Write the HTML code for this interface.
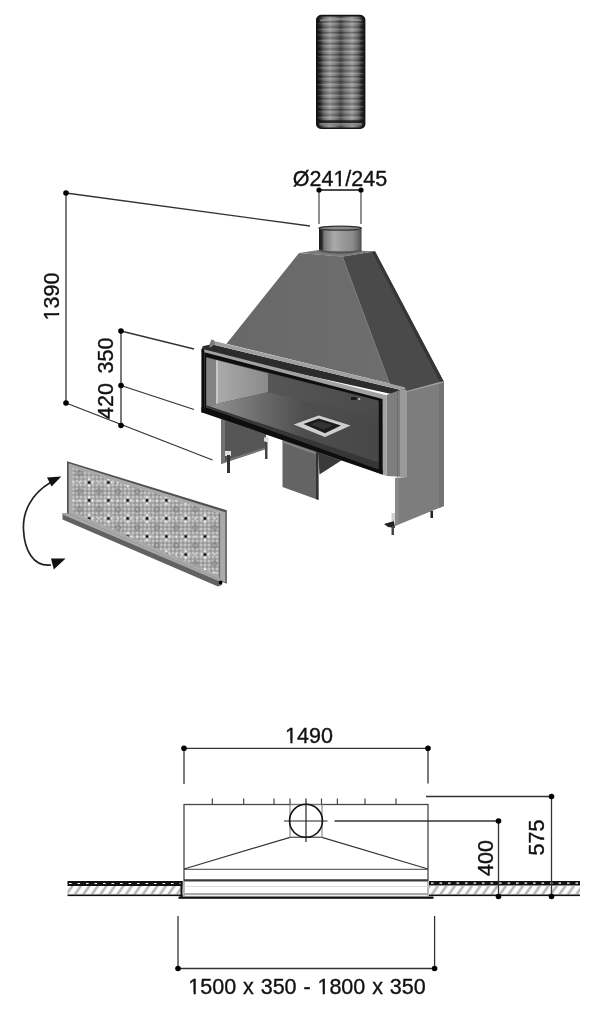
<!DOCTYPE html>
<html><head><meta charset="utf-8">
<style>
html,body{margin:0;padding:0;background:#fff;width:600px;height:1013px;overflow:hidden}
svg{display:block}
text{font-family:"Liberation Sans",sans-serif;fill:#111;stroke:#111;stroke-width:0.35px}
svg{filter:blur(0.3px)}
</style></head><body>
<svg width="600" height="1013" viewBox="0 0 600 1013">
<defs>
  <linearGradient id="pipeH" x1="0" x2="1" y1="0" y2="0">
    <stop offset="0" stop-color="#111"/>
    <stop offset="0.07" stop-color="#2a2a2a"/>
    <stop offset="0.15" stop-color="#6a6a6a"/>
    <stop offset="0.27" stop-color="#9a9a9a"/>
    <stop offset="0.4" stop-color="#767676"/>
    <stop offset="0.5" stop-color="#4c4c4c"/>
    <stop offset="0.6" stop-color="#767676"/>
    <stop offset="0.74" stop-color="#9a9a9a"/>
    <stop offset="0.86" stop-color="#6a6a6a"/>
    <stop offset="0.94" stop-color="#2a2a2a"/>
    <stop offset="1" stop-color="#111"/>
  </linearGradient>
  <pattern id="ridges" x="0" y="21" width="10" height="11" patternUnits="userSpaceOnUse">
    <rect x="0" y="0" width="10" height="1.4" fill="#000" opacity="0.26"/>
    <rect x="0" y="2.2" width="10" height="1.2" fill="#fff" opacity="0.15"/>
    <rect x="0" y="5.2" width="10" height="1.6" fill="#000" opacity="0.2"/>
    <rect x="0" y="8" width="10" height="1.3" fill="#fff" opacity="0.18"/>
  </pattern>
  <linearGradient id="collar" x1="0" x2="1" y1="0" y2="0">
    <stop offset="0" stop-color="#1a1a1a"/>
    <stop offset="0.07" stop-color="#2a2a2a"/>
    <stop offset="0.12" stop-color="#777"/>
    <stop offset="0.35" stop-color="#aaa"/>
    <stop offset="0.55" stop-color="#9a9a9a"/>
    <stop offset="0.8" stop-color="#8a8a8a"/>
    <stop offset="0.94" stop-color="#666"/>
    <stop offset="1" stop-color="#444"/>
  </linearGradient>
  <linearGradient id="hoodfront" x1="0" x2="1" y1="0" y2="0">
    <stop offset="0" stop-color="#686868"/>
    <stop offset="1" stop-color="#6e6e6e"/>
  </linearGradient>
  <linearGradient id="leftwall" x1="0" x2="1" y1="0" y2="0">
    <stop offset="0" stop-color="#aaa"/>
    <stop offset="1" stop-color="#8a8a8a"/>
  </linearGradient>
  <linearGradient id="backwall" x1="0" x2="1" y1="0" y2="0">
    <stop offset="0" stop-color="#565656"/>
    <stop offset="1" stop-color="#4a4a4a"/>
  </linearGradient>
  <linearGradient id="floor" gradientUnits="userSpaceOnUse" x1="216" x2="378" y1="0" y2="0">
    <stop offset="0" stop-color="#8e8e8e"/>
    <stop offset="0.3" stop-color="#686868"/>
    <stop offset="0.55" stop-color="#4e4e4e"/>
    <stop offset="1" stop-color="#474747"/>
  </linearGradient>
  <pattern id="grilleA" x="0" y="0" width="4" height="4" patternUnits="userSpaceOnUse">
    <rect width="4" height="4" fill="#a8a8a8"/>
    <circle cx="1" cy="1" r="1" fill="#cfcfcf"/>
    <circle cx="3" cy="3" r="1" fill="#929292"/>
  </pattern>
  <pattern id="grilleB" x="2.3" y="5.5" width="19.3" height="18" patternUnits="userSpaceOnUse">
    <path d="M0 3 L3 0 M16.3 0 L19.3 3 M0 15 L3 18 M16.3 18 L19.3 15" stroke="#7e7e7e" stroke-width="1.6" opacity="0.8"/>
    <path d="M9.65 3.5 L15.5 9 L9.65 14.5 L3.8 9 Z" fill="none" stroke="#bdbdbd" stroke-width="1.2" opacity="0.7"/>
    <circle cx="9.65" cy="5.8" r="1.1" fill="#fff"/>
    <circle cx="9.65" cy="12.2" r="1.1" fill="#fff"/>
    <circle cx="6.45" cy="9" r="1.1" fill="#fff"/>
    <circle cx="12.85" cy="9" r="1.1" fill="#fff"/>
    <circle cx="0" cy="9" r="1" fill="#f4f4f4"/>
    <circle cx="19.3" cy="9" r="1" fill="#f4f4f4"/>
    <circle cx="9.65" cy="9" r="1.45" fill="#050505"/>
  </pattern>
  <filter id="soft" x="-5%" y="-5%" width="110%" height="110%"><feGaussianBlur stdDeviation="0.45"/></filter>
  <pattern id="hatch" x="0" y="885.5" width="8.5" height="9" patternUnits="userSpaceOnUse">
    <path d="M-2 9.5 L5 -0.5 M6.5 9.5 L13.5 -0.5" stroke="#b4b4b4" stroke-width="2.6"/>
  </pattern>
</defs>

<!-- ===== flexible pipe ===== -->
<g id="pipe">
  <rect x="316.8" y="15.6" width="47.8" height="112.6" rx="5" ry="4" fill="url(#pipeH)"/>
  <rect x="318" y="21" width="45.5" height="100" fill="url(#ridges)"/>
  <path d="M320,19.5 Q340.7,16.5 361.5,19.5 L361.5,21.5 Q340.7,18.5 320,21.5Z" fill="#aaa" opacity="0.55"/>
  <rect x="318.5" y="120.5" width="44.5" height="2.4" fill="#151515" opacity="0.85"/>
  <rect x="319.5" y="123" width="42.5" height="2.4" fill="#8a8a8a" opacity="0.7"/>
  <rect x="316.8" y="15.6" width="47.8" height="112.6" rx="5" ry="4" fill="none" stroke="#141414" stroke-width="1.6"/>
</g>

<!-- ===== diameter dimension ===== -->
<text x="340" y="185.5" font-size="21.5" text-anchor="middle">Ø241/245</text><rect x="333.80" y="183.40" width="4.85" height="3.4" fill="#fff"/><rect x="340.85" y="183.40" width="4.3" height="3.4" fill="#fff"/>
<g stroke="#444" stroke-width="1.2" fill="none">
  <line x1="319" y1="190" x2="361" y2="190" stroke="#111" stroke-width="1.4"/>
  <line x1="319" y1="190" x2="319" y2="224"/>
  <line x1="361" y1="190" x2="361" y2="224"/>
</g>
<circle cx="319" cy="190" r="2.6" fill="#000"/>
<circle cx="361" cy="190" r="2.6" fill="#000"/>

<!-- ===== left dimension lines ===== -->
<g stroke="#333" stroke-width="1.3" fill="none">
  <line x1="66" y1="193" x2="310" y2="226"/>
  <line x1="66" y1="193" x2="66" y2="403"/>
  <line x1="66" y1="403" x2="212.5" y2="460"/>
  <line x1="121" y1="331" x2="121" y2="425.5"/>
  <line x1="121" y1="331" x2="194" y2="349"/>
  <line x1="121" y1="385.5" x2="194" y2="409.5"/>
</g>
<g fill="#000">
  <circle cx="66" cy="193" r="2.8"/>
  <circle cx="66" cy="403" r="2.8"/>
  <circle cx="121" cy="331" r="2.8"/>
  <circle cx="121" cy="385.5" r="2.8"/>
  <circle cx="121" cy="425.5" r="2.8"/>
</g>
<!-- ===== fireplace body ===== -->
<g id="body">
  <!-- side panel right -->
  <polygon points="406.5,391 443.5,381 444,506 395,526 395,478 406.5,477" fill="#7d7d7d"/>
  <polygon points="395,478 398.5,477.5 398.5,524.5 395,526" fill="#8a8a8a"/>
  <polygon points="439,382.2 444,381 444,506 439,508" fill="#737373"/>
  <polygon points="406.5,390 443.5,380.5 443.5,382.5 406.5,392" fill="#a5a5a5"/>
  <!-- hood right face -->
  <polygon points="342.5,256.5 375,251.3 443.5,381 406.5,391 389.5,383.5" fill="#4a4a4a"/>
  <polygon points="372,251.8 375,251.3 443.5,381 440,382" fill="#363636"/>
  <!-- hood front face -->
  <polygon points="299,253 342.5,256.5 389.5,383.5 226.5,343.7" fill="url(#hoodfront)"/>
  <line x1="342.5" y1="257" x2="389.5" y2="383.5" stroke="#767676" stroke-width="1"/>
  <!-- hood top -->
  <polygon points="299,253 322,249.5 375,251.3 342.5,256.8" fill="#7a7a7a"/>
  <!-- collar -->
  <rect x="319" y="228" width="42.5" height="23" fill="url(#collar)"/>
  <ellipse cx="340.2" cy="228.2" rx="21.2" ry="2" fill="#8a8a8a" stroke="#333" stroke-width="1.2"/>
  <path d="M319 249.5 Q340 254 361.5 249.5 L361.5 251.5 Q340 256 319 251.5Z" fill="#555"/>
  <!-- left leg -->
  <polygon points="221,416 266,431.5 266,449 221,464" fill="#565656"/>
  <polygon points="221,416 225,417.4 225,462.6 221,464" fill="#727272"/>
  <polygon points="226,460 266,447 266,449 226,462" fill="#777"/>
  <rect x="225" y="451" width="6" height="5" fill="#ddd"/>
  <rect x="227" y="455" width="3" height="18" fill="#333"/>
  <rect x="264" y="437.5" width="5" height="4" fill="#ddd"/>
  <rect x="265" y="442" width="2.5" height="17" fill="#444"/>
  <!-- centre leg -->
  <polygon points="318,451 342,460 319.5,474.5" fill="#3a3a3a"/>
  <polygon points="282.5,438 318,450.5 318.5,500 282.5,487" fill="#646464"/>
  <polygon points="282.5,440.8 318,453 318,455 282.5,442.8" fill="#858585"/>
  <polygon points="316,450 318.5,450.5 318.5,500 316,499" fill="#333"/>
  <!-- flange on top of firebox -->
  <polygon points="202.5,346.3 211.5,344.3 405,391.1 405,397 201.5,352" fill="#2c2c2c"/>
  <polygon points="209,345.3 211.5,339.6 214,341.1 405,387.3 405,391.1 211.5,344.3" fill="#a0a0a0"/>
  <polygon points="211.5,339.6 214,340.2 215,344 211,347.3 209,347.3" fill="#7a7a7a"/>
  <!-- frame side face -->
  <polygon points="386.5,395.1 403.5,388.8 406.5,390 406.5,477 386.5,476" fill="#7e7e7e"/>
  <polygon points="400,389.6 406.5,390 406.5,477 400,477" fill="#9a9a9a"/>
  <line x1="397.5" y1="391" x2="397.5" y2="477" stroke="#6e6e6e" stroke-width="1"/>
  <!-- frame front -->
  <polygon points="201.5,348.8 386.5,395.3 386.5,476 201.5,412.2" fill="#a2a2a2"/>
  <polygon points="201.5,348.8 204.3,349.5 204.3,412.9 201.5,412.2" fill="#0c0c0c"/>
  <polygon points="204.3,352.2 382.6,399 382.6,474.4 204.3,409" fill="#0e0e0e"/>
  <polygon points="201.5,407.3 382.6,469.8 382.6,474.6 201.5,412.2" fill="#0e0e0e"/>
  <!-- interior -->
  <polygon points="206.3,357 378.5,400.6 378.5,469.3 206.3,407.3" fill="#4a4a4a"/>
  <polygon points="268,373.2 378.5,401 378.5,418 268,392.3" fill="url(#backwall)"/>
  <polygon points="206.3,357.6 216,360.1 216,404.5 206.3,406.6" fill="#838383"/>
  <polygon points="218,360.6 268,373.2 268,392.3 218,403.6" fill="url(#leftwall)"/>
  <polygon points="216,360.1 218,360.6 218,403.6 216,404.5" fill="#c8c8c8"/>
  <polygon points="206.3,406.6 216,404.5 218,403.6 268,392.3 378.5,418 378.5,462 206.3,407.3" fill="url(#floor)"/>
  <polygon points="206.3,405.3 378.5,462.5 378.5,469.3 206.3,407.3" fill="#363636"/>
  <!-- ash grate -->
  <polygon points="293.7,424.4 318.7,415.4 350.6,425.6 325,437" fill="#cfcfcf"/>
  <polygon points="303.5,424 318.7,418.6 341,425.4 325,433.2" fill="#1c1c1c"/>
  <polygon points="310,424.2 319,421.2 333,425.3 324,429.5" fill="#333"/>
  <!-- small knob -->
  <rect x="351" y="397.2" width="5.5" height="2.6" fill="#111"/>
  <circle cx="359.3" cy="399" r="1" fill="#ccc"/>
  <!-- feet side panel -->
  <rect x="391.5" y="513" width="3.5" height="8" fill="#d0d0d0"/>
  <polygon points="384,524 394,521 395,528 388,527" fill="#222"/>
  <rect x="391.5" y="526" width="2.5" height="9" fill="#444"/>
  <rect x="430.5" y="511" width="2.5" height="7" fill="#222"/>
</g>

<!-- ===== grille panel ===== -->
<g id="grille">
  <polygon points="67,461.3 226.8,510.3 226.8,583.8 67,515.5" fill="#505050"/>
  <polygon points="68.6,463.2 225.4,512.2 225.4,582.5 68.6,515" fill="#a9a9a9"/>
  <g filter="url(#soft)">
  <polygon points="72.5,467.4 219.3,513.6 219.3,576.3 72.5,511.8" fill="url(#grilleA)"/>
  <polygon points="72.5,467.4 219.3,513.6 219.3,576.3 72.5,511.8" fill="url(#grilleB)"/>
  </g>
  <line x1="219.6" y1="513.5" x2="219.6" y2="578" stroke="#6a6a6a" stroke-width="1"/>
  <!-- shelf -->
  <polygon points="62.5,513 67.5,513.3 222,580.5 222,585 218,586.5 62.5,519.5" fill="#626262"/>
  <polygon points="62.5,513 67.5,513.3 222,580.5 221,582 62.5,514.6" fill="#a8a8a8"/>
  <circle cx="220.6" cy="582.4" r="1.9" fill="#000"/>
</g>
<!-- curved arrow -->
<path d="M50.5 482.5 C 31 494, 22.5 512, 23.5 530 C 24.5 550, 33 567, 51 565" fill="none" stroke="#222" stroke-width="1.7"/>
<polygon points="61.3,476.4 47,477.4 51.6,486.6" fill="#111"/>
<polygon points="65.6,558.6 51,558.4 53.8,569.4" fill="#111"/>

<!-- ===== plan view ===== -->
<g id="plan">
  <!-- floors -->
  <rect x="67.5" y="881" width="115" height="5" fill="#111"/>
  <line x1="69" y1="883.5" x2="182" y2="883.5" stroke="#fff" stroke-width="1.2" stroke-dasharray="2.6 5.9"/>
  <rect x="67.5" y="886" width="115" height="8.5" fill="url(#hatch)"/>
  <rect x="67.5" y="894.5" width="115" height="1.6" fill="#111"/>
  <rect x="180.5" y="881" width="2" height="16" fill="#111"/>
  <rect x="429" y="881" width="151" height="4.5" fill="#111"/>
  <line x1="431" y1="883.2" x2="580" y2="883.2" stroke="#fff" stroke-width="1.2" stroke-dasharray="2.6 5.9"/>
  <rect x="429" y="885.5" width="151" height="9" fill="url(#hatch)"/>
  <rect x="429" y="894.5" width="151" height="1.6" fill="#111"/>
  <!-- fireplace plan -->
  <g stroke="#484848" fill="none" stroke-width="1.3">
    <rect x="184" y="804.5" width="244" height="76"/>
    <line x1="184" y1="869.3" x2="428" y2="869.3" stroke="#666"/>
    <polyline points="184,869 290,837.3 322,837.3 428,869" stroke="#333" stroke-width="1.3"/>
    <rect x="290" y="804.5" width="32" height="32.8" stroke="#777" stroke-width="1"/>
  </g>
  <rect x="184" y="879.3" width="244" height="2.1" fill="#3a3a3a"/>
  <line x1="184" y1="881" x2="184" y2="896" stroke="#888" stroke-width="1.2"/>
  <line x1="428" y1="881" x2="428" y2="896" stroke="#888" stroke-width="1.2"/>
  <rect x="184" y="893" width="244" height="2.2" fill="#aaa"/>
  <rect x="178.5" y="896.5" width="255" height="2.3" fill="#111"/>
  <line x1="184" y1="886.5" x2="428" y2="886.5" stroke="#ddd" stroke-width="1"/>
  <!-- ticks -->
  <g stroke="#444" stroke-width="1.2">
    <line x1="212.3" y1="798.5" x2="212.3" y2="804.5"/>
    <line x1="243.7" y1="798.5" x2="243.7" y2="804.5"/>
    <line x1="274" y1="798.5" x2="274" y2="804.5"/>
    <line x1="290" y1="798.5" x2="290" y2="804.5"/>
    <line x1="321.5" y1="798.5" x2="321.5" y2="804.5"/>
    <line x1="337.4" y1="798.5" x2="337.4" y2="804.5"/>
    <line x1="365" y1="798.5" x2="365" y2="804.5"/>
    <line x1="396" y1="798.5" x2="396" y2="804.5"/>
  </g>
  <!-- flue circle -->
  <circle cx="306" cy="820.8" r="16.5" fill="none" stroke="#111" stroke-width="1.6"/>
  <line x1="284" y1="821" x2="327.5" y2="821" stroke="#222" stroke-width="1.2"/>
  <line x1="306" y1="798.5" x2="306" y2="842" stroke="#222" stroke-width="1.2"/>
  <!-- dimensions -->
  <g stroke="#333" stroke-width="1.3">
    <line x1="184" y1="748.3" x2="428" y2="748.3"/>
    <line x1="184" y1="748.3" x2="184" y2="784"/>
    <line x1="428" y1="748.3" x2="428" y2="783.5"/>
    <line x1="426" y1="796.5" x2="551.5" y2="796.5"/>
    <line x1="551.5" y1="796.5" x2="551.5" y2="896.5"/>
    <line x1="334.5" y1="821" x2="498.5" y2="821"/>
    <line x1="498.5" y1="821" x2="498.5" y2="896.5"/>
    <line x1="178" y1="916" x2="178" y2="968.5"/>
    <line x1="434.6" y1="916" x2="434.6" y2="968.5"/>
    <line x1="178" y1="968.5" x2="434.6" y2="968.5"/>
  </g>
  <g fill="#000">
    <circle cx="184" cy="748.3" r="2.8"/>
    <circle cx="428" cy="748.3" r="2.8"/>
    <circle cx="551.5" cy="796.5" r="2.8"/>
    <circle cx="551.5" cy="896.5" r="2.8"/>
    <circle cx="498.5" cy="821" r="2.8"/>
    <circle cx="498.5" cy="896.5" r="2.8"/>
    <circle cx="178" cy="968.5" r="2.8"/>
    <circle cx="434.6" cy="968.5" r="2.8"/>
  </g>
  <text x="309" y="742.5" font-size="21.5" text-anchor="middle">1490</text><rect x="285.48" y="740.40" width="4.85" height="3.4" fill="#fff"/><rect x="292.53" y="740.40" width="4.3" height="3.4" fill="#fff"/>
  <text transform="translate(493.3,858) rotate(-90)" font-size="21.5" text-anchor="middle">400</text>
  <text transform="translate(544.3,837.5) rotate(-90)" font-size="21.5" text-anchor="middle">575</text>
  <text x="307" y="994" font-size="21.5" text-anchor="middle" word-spacing="0.9">1500 x 350 - 1800 x 350</text><rect x="188.74" y="991.90" width="4.85" height="3.4" fill="#fff"/><rect x="195.79" y="991.90" width="4.3" height="3.4" fill="#fff"/><rect x="317.84" y="991.90" width="4.85" height="3.4" fill="#fff"/><rect x="324.89" y="991.90" width="4.3" height="3.4" fill="#fff"/>
</g>

<g transform="translate(59,296.5) rotate(-90)"><text font-size="21.5" text-anchor="middle">1390</text><rect x="-23.52" y="-2.10" width="4.85" height="3.4" fill="#fff"/><rect x="-16.47" y="-2.10" width="4.3" height="3.4" fill="#fff"/></g>
<text transform="translate(112.5,355.5) rotate(-90)" font-size="21.5" text-anchor="middle">350</text>
<text transform="translate(112.5,401) rotate(-90)" font-size="21.5" text-anchor="middle">420</text>

</svg>
</body></html>
